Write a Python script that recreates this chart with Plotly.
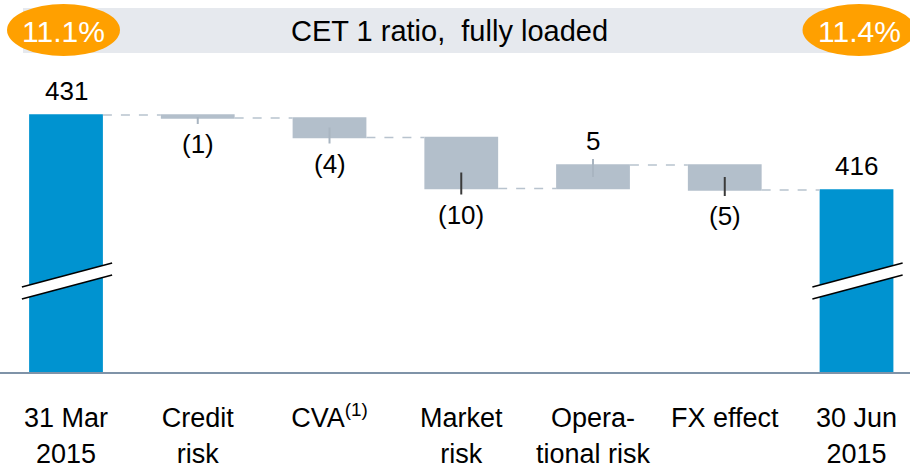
import plotly.graph_objects as go

# CET 1 ratio walk, 31 Mar 2015 -> 30 Jun 2015
categories = ["31 Mar<br>2015", "Credit<br>risk", "CVA<sup>(1)</sup>", "Market<br>risk",
              "Opera-<br>tional risk", "FX effect", "30 Jun<br>2015"]
start_value = 431.0
changes = [-0.6, -3.9, -10.2, 4.7, -5.0]
value_labels = ["431", "(1)", "(4)", "(10)", "5", "(5)", "416"]
ratio_labels = ["11.1%", "11.4%"]
title_text = "CET 1 ratio,\u00a0 fully loaded"

BLUE = "#0093d0"
GREY = "#b3bfcb"
ORANGE = "#ffa000"
BAND = "#e6e9ee"
FONT = "Arial, Liberation Sans, sans-serif"

W, H = 910, 465
MT, MB = 0, 93
PLOT_H = H - MT - MB


def py(pixel_y):
    # paper y from a pixel row (plot area starts at the top of the page)
    return (H - MB - pixel_y) / PLOT_H


def plot_chart():
    n = len(categories)
    running = [start_value]
    for c in changes:
        running.append(running[-1] + c)

    fig = go.Figure()
    fig.add_trace(go.Waterfall(
        x=list(range(n)),
        measure=["absolute"] + ["relative"] * len(changes) + ["total"],
        y=[start_value] + changes + [0],
        width=0.56,
        increasing=dict(marker=dict(color=GREY, line=dict(width=0))),
        decreasing=dict(marker=dict(color=GREY, line=dict(width=0))),
        totals=dict(marker=dict(color=BLUE, line=dict(width=0))),
        connector=dict(mode="between", line=dict(color="#b8c3ce", width=1.5, dash="dash")),
        hoverinfo="skip",
    ))

    label_font = dict(family=FONT, size=26, color="#000000")
    gap = 7
    # start / end labels above the blue bars
    for i, v in [(0, start_value), (n - 1, running[-1])]:
        fig.add_annotation(x=i, y=v, text=value_labels[i], showarrow=False,
                           xanchor="center", yanchor="bottom", yshift=gap, font=label_font)

    # change labels with small leader ticks
    leader_inner_px = [1, 10, 16, 12, 13]
    leader_colors = ["#a9b5c1", "#a9b5c1", "#3a3a3a", "#a9b5c1", "#3a3a3a"]
    for k, c in enumerate(changes):
        i = k + 1
        end = running[i]
        if c < 0:
            fig.add_annotation(x=i, y=end, text=value_labels[i], showarrow=False,
                               xanchor="center", yanchor="top", yshift=-(gap + 2), font=label_font)
            y0, y1 = -6, leader_inner_px[k]
        else:
            fig.add_annotation(x=i, y=end, text=value_labels[i], showarrow=False,
                               xanchor="center", yanchor="bottom", yshift=gap, font=label_font)
            y0, y1 = 6, -leader_inner_px[k]
        fig.add_shape(type="line", xref="x", yref="y", ysizemode="pixel", yanchor=end,
                      x0=i, x1=i, y0=y0, y1=y1,
                      line=dict(color=leader_colors[k], width=2))

    # axis break marks on the two blue bars
    brk = 397.8
    for i in (0, n - 1):
        xl, xr = i - 0.335, i + 0.35
        fig.add_shape(type="path", xref="x", yref="y",
                      path=f"M {xl},{brk - 1.2} L {xr},{brk + 3.6} L {xr},{brk + 1.2} L {xl},{brk - 3.6} Z",
                      fillcolor="white", line=dict(width=0))
        for off in (1.2, -1.2):
            fig.add_shape(type="line", xref="x", yref="y",
                          x0=xl, y0=brk - 2.4 + off, x1=xr, y1=brk + 2.4 + off,
                          line=dict(color="black", width=1.5))

    # header band with the ratios
    fig.add_shape(type="rect", xref="paper", yref="paper", x0=23 / W, x1=860 / W,
                  y0=py(53), y1=py(8), fillcolor=BAND, line=dict(width=0), layer="below")
    for cx, txt in [(63.5, ratio_labels[0]), (859, ratio_labels[1])]:
        fig.add_shape(type="circle", xref="paper", yref="paper",
                      x0=(cx - 56.5) / W, x1=(cx + 56.5) / W, y0=py(56), y1=py(4),
                      fillcolor=ORANGE, line=dict(width=0))
        fig.add_annotation(x=cx / W, y=py(31), xref="paper", yref="paper", text=txt,
                           showarrow=False, xanchor="center", yanchor="middle",
                           font=dict(family=FONT, size=30, color="white"))
    fig.add_annotation(x=449.5 / W, y=py(31), xref="paper", yref="paper", text=title_text,
                       showarrow=False, xanchor="center", yanchor="middle",
                       font=dict(family=FONT, size=29, color="#000000"))

    fig.update_layout(
        width=W, height=H,
        margin=dict(l=0, r=0, t=MT, b=MB, autoexpand=False),
        paper_bgcolor="white", plot_bgcolor="white",
        showlegend=False,
        xaxis=dict(
            tickmode="array", tickvals=list(range(n)), ticktext=categories,
            range=[-0.501, 6.406], showgrid=False, zeroline=False, automargin=False,
            showline=True, linecolor="#7f93a8", linewidth=2, ticks="",
            ticklabelstandoff=21,
            tickfont=dict(family=FONT, size=27, color="#000000"),
        ),
        yaxis=dict(range=[start_value - (H - MB - 115) / 5, start_value + 115 / 5],
                   visible=False, showgrid=False, automargin=False),
    )
    # page body margin off so the figure sits at the window's corner
    fig.write_html("out.html", config={"displayModeBar": False},
                   post_script="document.body.style.margin='0';")


if __name__ == "__main__":
    plot_chart()
